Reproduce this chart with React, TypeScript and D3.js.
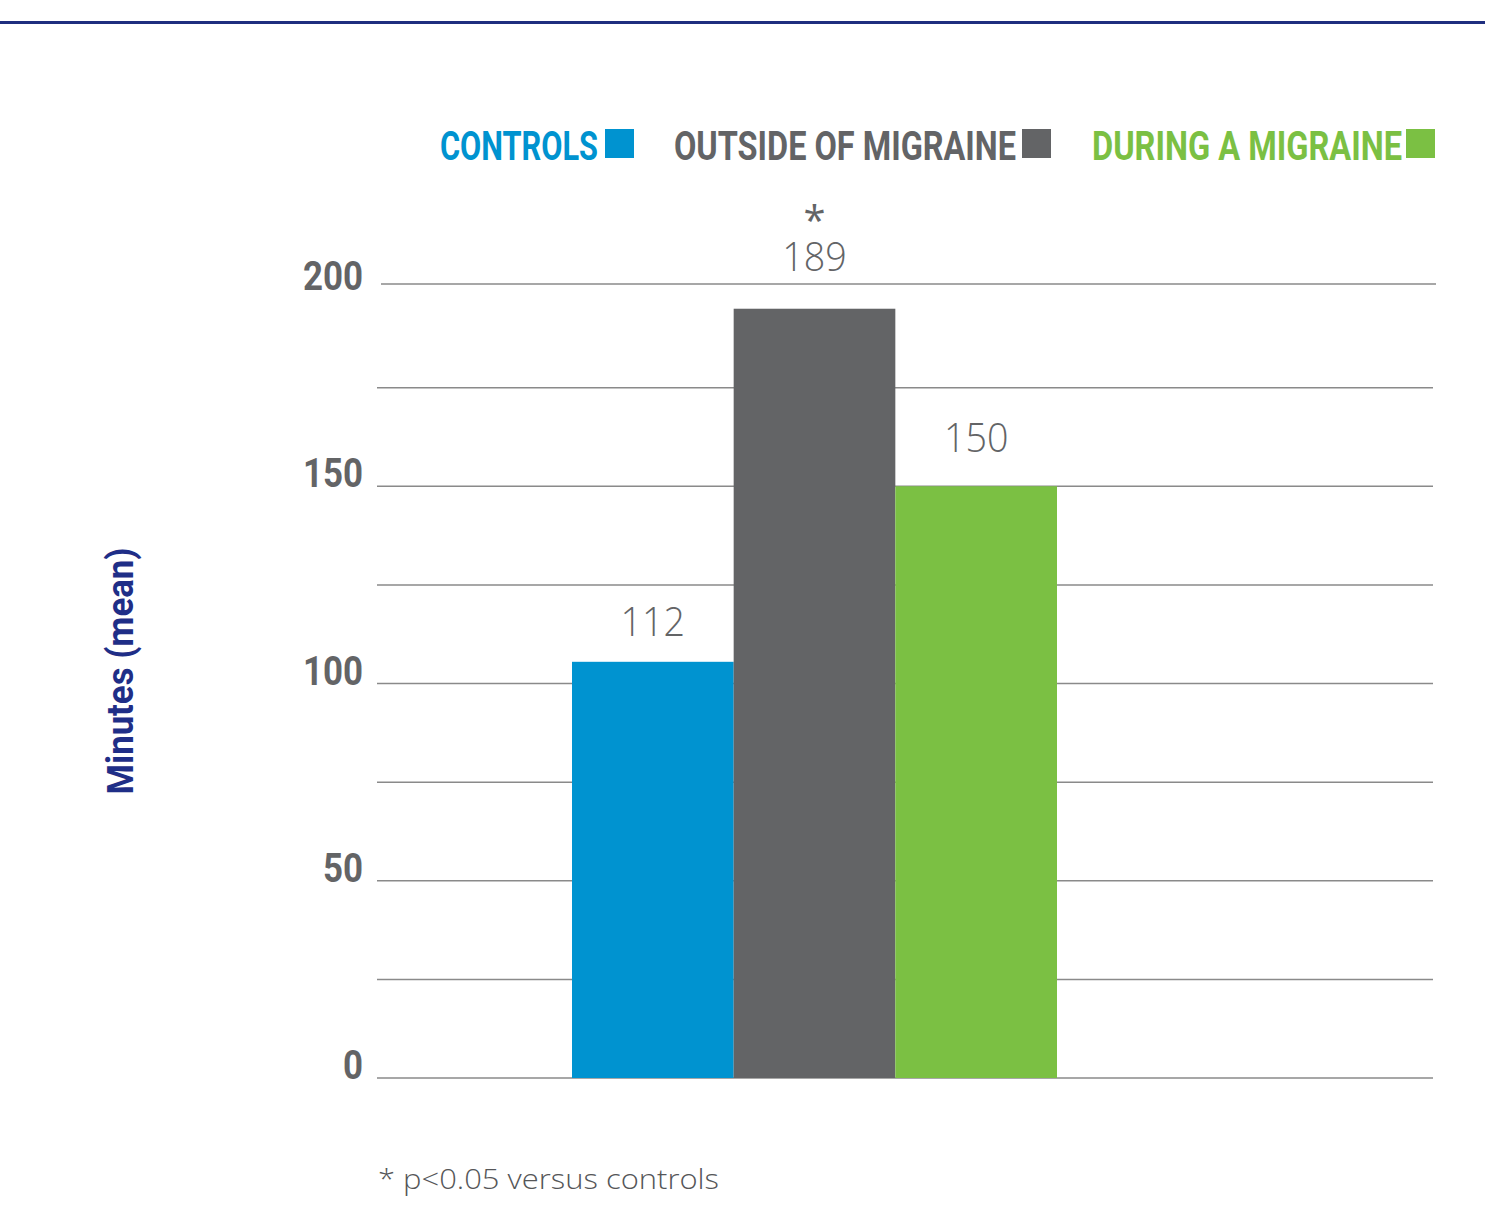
import React from "react";
import * as d3 from "d3";

const categories = ["CONTROLS", "OUTSIDE OF MIGRAINE", "DURING A MIGRAINE"];
const barValues = [105.5, 195, 150];
const valueLabels = ["112", "189", "150"];
const significance = ["", "*", ""];
const colors = ["#0093d0", "#636466", "#7bc043"];
const yTicks = [0, 50, 100, 150, 200];
const gridValues = [0, 25, 50, 75, 100, 125, 150, 175, 200];
const yTitle = "Minutes (mean)";
const footnote = "* p<0.05 versus controls";

const W = 1485;
const H = 1211;

export default function App() {
  const x = d3.scaleBand<string>().domain(categories).range([572, 1057]).padding(0);
  const y = d3.scaleLinear().domain([0, 200]).range([1078, 289]);

  const legend = [
    { x: 440, w: 158, sq: 605 },
    { x: 674, w: 342, sq: 1022 },
    { x: 1092, w: 310, sq: 1406 },
  ];
  // layout: gap between bar top and its value label baseline
  const labelGap = [26, 38, 34];

  return (
    <svg width={W} height={H} style={{ display: "block", position: "absolute", left: 0, top: 0 }}>
      <rect x={0} y={0} width={W} height={H} fill="#ffffff" />
      <rect x={0} y={21} width={W} height={3} fill="#1f2e7f" />

      {/* legend */}
      {categories.map((c, i) => (
        <g key={c}>
          <text
            x={legend[i].x}
            y={160}
            fontFamily="Roboto, 'Noto Sans', sans-serif"
            fontWeight={700}
            fontSize={40}
            fill={colors[i]}
            textLength={legend[i].w}
            lengthAdjust="spacingAndGlyphs"
          >
            {c}
          </text>
          <rect x={legend[i].sq} y={129} width={29} height={29} fill={colors[i]} />
        </g>
      ))}

      {/* gridlines */}
      {gridValues.map((v) => (
        <line
          key={v}
          x1={v === 200 ? 381 : 377}
          x2={v === 200 ? 1436 : 1433}
          y1={v === 200 ? 284 : y(v)}
          y2={v === 200 ? 284 : y(v)}
          stroke="#8a8a8a"
          strokeWidth={1.5}
        />
      ))}

      {/* y tick labels */}
      {yTicks.map((v) => (
        <text
          key={v}
          x={363}
          y={y(v) + 1}
          textAnchor="end"
          fontFamily="Roboto, 'Noto Sans', sans-serif"
          fontWeight={700}
          fontSize={41}
          fill="#636466"
          textLength={String(v).length * 20}
          lengthAdjust="spacingAndGlyphs"
        >
          {v}
        </text>
      ))}

      {/* y title */}
      <text
        transform={`translate(133, 671) rotate(-90)`}
        textAnchor="middle"
        fontFamily="Roboto, 'Noto Sans', sans-serif"
        fontWeight={700}
        fontSize={36}
        fill="#1f2e87"
        textLength={247}
        lengthAdjust="spacingAndGlyphs"
      >
        {yTitle}
      </text>

      {/* bars */}
      {categories.map((c, i) => (
        <rect
          key={c}
          x={x(c)!}
          y={y(barValues[i])}
          width={x.bandwidth()}
          height={y(0) - y(barValues[i])}
          fill={colors[i]}
        />
      ))}

      {/* value labels */}
      {categories.map((c, i) => {
        const cx = x(c)! + x.bandwidth() / 2;
        const top = y(barValues[i]);
        const base = top - labelGap[i];
        return (
          <g key={c}>
            <text
              x={cx}
              y={base}
              textAnchor="middle"
              fontFamily="'Open Sans', sans-serif"
              fontWeight={300}
              fontSize={40}
              fill="#636466"
              textLength={valueLabels[i].length * 21.5}
              lengthAdjust="spacingAndGlyphs"
            >
              {valueLabels[i]}
            </text>
            {significance[i] && (
              <text
                x={cx}
                y={base - 36}
                textAnchor="middle"
                fontFamily="'Open Sans', sans-serif"
                fontWeight={400}
                fontSize={40}
                fill="#636466"
              >
                {significance[i]}
              </text>
            )}
          </g>
        );
      })}

      {/* footnote */}
      <text
        x={378}
        y={1189}
        fontFamily="'Open Sans', sans-serif"
        fontWeight={300}
        fontSize={28}
        fill="#555658"
        textLength={341}
        lengthAdjust="spacingAndGlyphs"
      >
        {footnote}
      </text>
    </svg>
  );
}
